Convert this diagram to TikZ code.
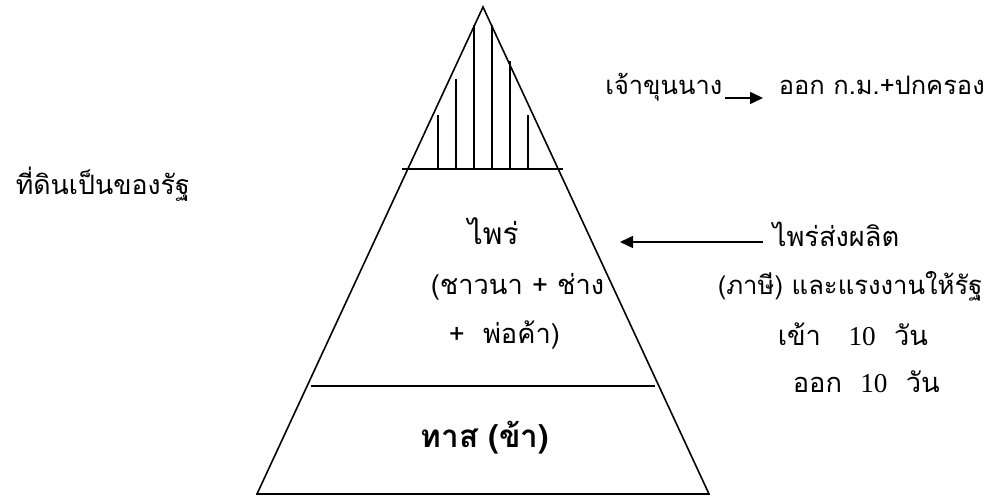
\documentclass[tikz,border=0pt]{standalone}
\usepackage{fontspec}
\usetikzlibrary{arrows.meta}
\newfontfamily\thaifont[Script=Thai]{Loma}
\newfontfamily\numfont{Liberation Serif}

\begin{document}
\begin{tikzpicture}[x=0.02cm,y=-0.02cm,line width=.9pt,
  txt/.style={anchor=base west,inner sep=0pt,font=\thaifont\fontsize{15.5}{19}\selectfont},
  smalltxt/.style={txt,font=\thaifont\fontsize{14.5}{17}\selectfont},
  tip/.style={-{Triangle[length=2.6mm,width=2.4mm]}}]
\useasboundingbox (0,0) rectangle (1000,496);
\draw (257,494)--(483,7)--(709,494)--cycle;
\draw (402,169)--(563,169);
\draw (311,386)--(655,386);
\foreach \x/\t in {438/115,456/79,474/25,492/25,510/61,528/115}
  \draw (\x,169)--(\x,\t);
\node[smalltxt,anchor=base east] (lords) at (723,95) {เจ้าขุนนาง};
\node[smalltxt] (lawgov) at (778,95) {ออก ก.ม.+ปกครอง};
\draw[tip] ([xshift=.4mm,yshift=-.6mm]lords.base east)--([xshift=-3mm,yshift=-.6mm]lawgov.base west);
\node[smalltxt,font=\thaifont\fontsize{15.2}{17}\selectfont] (land) at (15,195) {ที่ดินเป็นของรัฐ};
\node[txt,font=\thaifont\fontsize{17}{20}\selectfont] (phrai) at (467,245) {ไพร่};
\node[txt] (farmers) at (430,295) {(ชาวนา + ช่าง};
\node[txt] (traders) at (448,343) {+~~พ่อค้า)};
\node[txt,font=\thaifont\bfseries\fontsize{17.9}{21}\selectfont] (slave) at (420,447) {ทาส (ข้า)};
\node[txt] (phraisend) at (772,247) {ไพร่ส่งผลิต};
\coordinate (arrowend) at (620,242);
\draw[tip] ([xshift=-1.8mm]phraisend.west|-arrowend)--(arrowend);
\node[txt,font=\thaifont\fontsize{14.6}{18}\selectfont] (tax) at (717,295) {(ภาษี) และแรงงานให้รัฐ};
\node[txt] (daysin) at (777,345) {เข้า~~~{\numfont 10}~~วัน};
\node[txt] (daysout) at (792,392) {ออก~~{\numfont 10}~~วัน};
\end{tikzpicture}
\end{document}
